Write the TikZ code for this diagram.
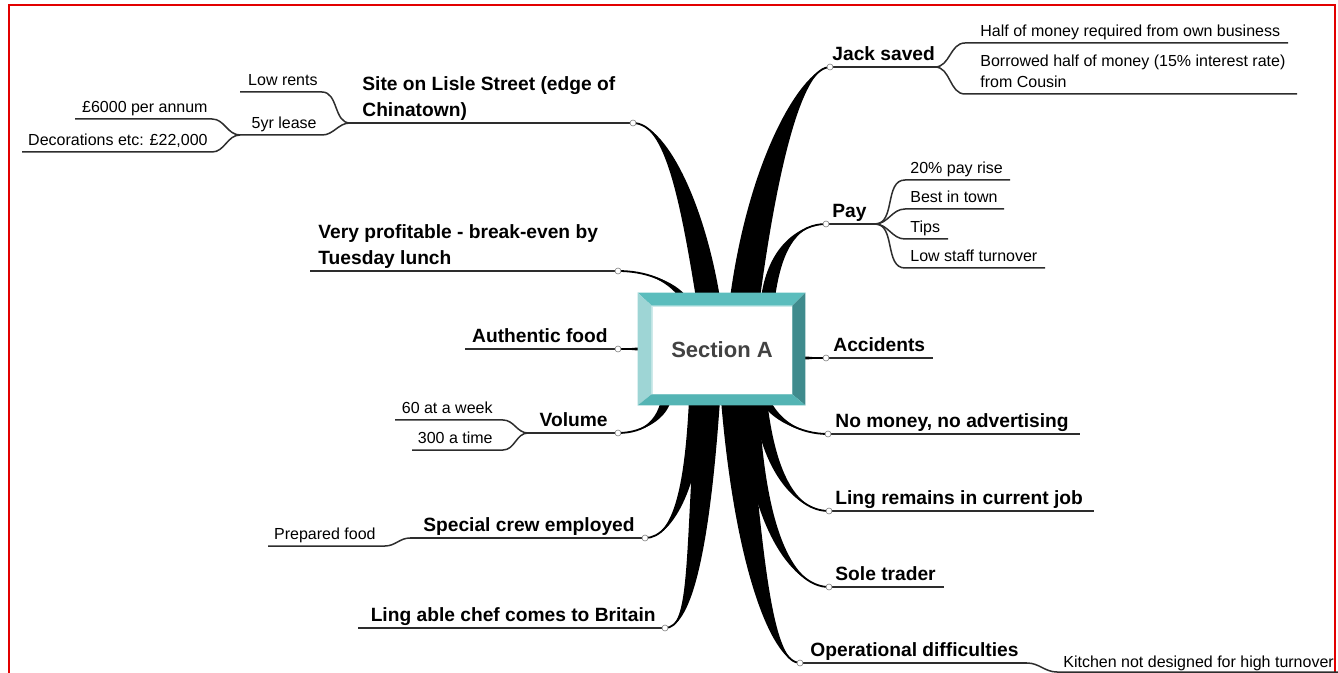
\documentclass[tikz,border=0pt]{standalone}
\usepackage{fontspec}
\setmainfont{Liberation Sans}
\usepackage{color}
\definecolor{myred}{RGB}{226,0,0}
\definecolor{mytealtop}{RGB}{91,189,189}
\definecolor{mytealleft}{RGB}{158,213,213}
\definecolor{mytealright}{RGB}{63,139,141}
\definecolor{mytealbot}{RGB}{84,180,180}
\definecolor{mygrey}{RGB}{66,66,66}
\definecolor{myline}{RGB}{45,45,45}
\usepackage{tikz}
\usetikzlibrary{calc,positioning}
\tikzstyle{dot}=[draw=gray,fill=white,circle,inner sep=0pt,minimum size=3pt,line width=0.3pt]

% tapered limb: base, half width, control at base, control at tip, tip
\newcommand{\limb}[5]{%
  \fill ($(#1)-(#2)$) .. controls ($(#3)-(#2)$) and (#4) .. (#5)
    .. controls (#4) and ($(#3)+(#2)$) .. ($(#1)+(#2)$) -- cycle;
  \draw[line width=0.9pt] (#1) .. controls (#3) and (#4) .. (#5);}

\begin{document}
\begin{tikzpicture}[
  x=0.5pt, y=-0.5pt,
  big/.style={font=\fontsize{9.6}{13}\selectfont\bfseries, inner sep=0pt},
  small/.style={font=\fontsize{8}{10.5}\selectfont, inner sep=0pt},
  rule/.style={line width=1pt, draw=myline},
  twig/.style={line width=0.75pt, draw=myline},
  secbox/.style={
    fill=white,
    draw=mytealleft!50,
    line width=0.3pt,
    minimum width=70pt,
    minimum height=44pt,
    font=\fontsize{11}{13}\selectfont\bfseries,
    text=mygrey
    }
]
\useasboundingbox (0,0) rectangle (1338,673);
\draw[myred, line width=1pt] (9,690) -- (9,5) -- (1335,5) -- (1335,690);

% tips of the limbs
\coordinate (siteT) at (633,123);
\coordinate (profT) at (618,271);
\coordinate (authT) at (618,349);
\coordinate (volT) at (618,433);
\coordinate (crewT) at (645,538);
\coordinate (chefT) at (665,628);
\coordinate (jackT) at (830,67);
\coordinate (payT) at (826,224);
\coordinate (accT) at (826,358);
\coordinate (moneyT) at (828,434);
\coordinate (jobT) at (829,511);
\coordinate (soleT) at (829,587);
\coordinate (operT) at (800,663);

% limbs out of the box
\limb{708,298}{12,0}{692,200}{665,123}{siteT}
\limb{745,298}{15,0}{765,150}{805,67}{jackT}
\limb{768,298}{7,0}{775,245}{800,224}{payT}
\limb{684,298}{4,0}{670,280}{645,271}{profT}
\limb{642,349}{0,1.5}{632,349}{626,349}{authT}
\limb{802,358}{0,1.5}{812,358}{818,358}{accT}
\limb{666,400}{5,0}{662,418}{645,433}{volT}
\limb{765,400}{5,0}{775,420}{800,434}{moneyT}
\limb{697,400}{8,0}{693,480}{675,538}{crewT}
\limb{708,400}{12,0}{697,560}{690,628}{chefT}
\limb{735,400}{14,0}{750,580}{775,663}{operT}
\limb{750,400}{9,0}{755,520}{790,587}{soleT}
\limb{760,400}{7,0}{768,470}{795,511}{jobT}

% the bevelled box
\node[secbox] (sec) at (722,350) {Section A};
\fill[mytealtop] ($(sec.north west)+(-14,-13)$) -- ($(sec.north east)+(13,-13)$) -- (sec.north east) -- (sec.north west) -- cycle;
\fill[mytealleft] ($(sec.north west)+(-14,-13)$) -- (sec.north west) -- (sec.south west) -- ($(sec.south west)+(-14,11)$) -- cycle;
\fill[mytealright] ($(sec.north east)+(13,-13)$) -- ($(sec.south east)+(13,11)$) -- (sec.south east) -- (sec.north east) -- cycle;
\fill[mytealbot] ($(sec.south west)+(-14,11)$) -- ($(sec.south east)+(13,11)$) -- (sec.south east) -- (sec.south west) -- cycle;

% forks and line ends
\coordinate (siteF) at (350,123);
\coordinate (lowR) at (322,92);    \coordinate (lowL) at (240,92);
\coordinate (leaseR) at (322,135); \coordinate (leaseF) at (240,135);
\coordinate (annumR) at (212,119); \coordinate (annumL) at (75,119);
\coordinate (decorR) at (212,152); \coordinate (decorL) at (22,152);
\coordinate (profE) at (310,271);
\coordinate (authE) at (465,349);
\coordinate (volF) at (528,433);
\coordinate (weekR) at (503,420);  \coordinate (weekL) at (395,420);
\coordinate (timeR) at (503,450);  \coordinate (timeL) at (412,450);
\coordinate (crewF) at (410,538);
\coordinate (prepR) at (385,546);  \coordinate (prepL) at (268,546);
\coordinate (chefE) at (358,628);
\coordinate (jackF) at (935,67);
\coordinate (halfL) at (965,43);   \coordinate (halfR) at (1288,43);
\coordinate (borrowL) at (965,94); \coordinate (borrowR) at (1297,94);
\coordinate (payF) at (875,224);
\coordinate (accE) at (933,358);
\coordinate (moneyE) at (1080,434);
\coordinate (jobE) at (1094,511);
\coordinate (soleE) at (944,587);
\coordinate (operF) at (1027,663);
\coordinate (kitchenL) at (1057,672); \coordinate (kitchenR) at (1345,672);

% underlines
\draw[rule] (siteT) -- (siteF);
\draw[rule] (profT) -- (profE);
\draw[rule] (authT) -- (authE);
\draw[rule] (volT) -- (volF);
\draw[rule] (crewT) -- (crewF);
\draw[rule] (chefT) -- (chefE);
\draw[rule] (jackT) -- (jackF);
\draw[rule] (payT) -- (payF);
\draw[rule] (accT) -- (accE);
\draw[rule] (moneyT) -- (moneyE);
\draw[rule] (jobT) -- (jobE);
\draw[rule] (soleT) -- (soleE);
\draw[rule] (operT) -- (operF);

% sub branches
\draw[twig] (siteF) to[out=180,in=0] (lowR) -- (lowL);
\draw[twig] (siteF) to[out=180,in=0] (leaseR) -- (leaseF);
\draw[twig] (leaseF) to[out=180,in=0] (annumR) -- (annumL);
\draw[twig] (leaseF) to[out=180,in=0] (decorR) -- (decorL);
\draw[twig] (volF) to[out=180,in=0] (weekR) -- (weekL);
\draw[twig] (volF) to[out=180,in=0] (timeR) -- (timeL);
\draw[twig] (crewF) to[out=180,in=0] (prepR) -- (prepL);
\draw[twig] (jackF) to[out=0,in=180] (halfL) -- (halfR);
\draw[twig] (jackF) to[out=0,in=180] (borrowL) -- (borrowR);
\draw[twig] (operF) to[out=0,in=180] (kitchenL) -- (kitchenR);
\foreach \txt/\yy/\xe [count=\i] in {20\% pay rise/180/1010, Best in town/209/1004, Tips/239/948, Low staff turnover/268/1045} {
  \coordinate (payS\i) at (905,\yy);
  \coordinate (payE\i) at (\xe,\yy);
  \node[small, anchor=base west] (payL\i) at (910,\yy-6.5) {\txt};
  \draw[twig] (payF) to[out=0,in=180] (payS\i) -- (payE\i);
}

% left labels
\node[big, anchor=base west, align=left] (site) at (362,116.5) {Site on Lisle Street (edge of\\Chinatown)};
\node[small, anchor=base east] (low) at (318,85.5) {Low rents};
\node[small, anchor=base east] (lease) at (317,128.5) {5yr lease};
\node[small, anchor=base east] (annum) at (208,112.5) {£6000 per annum};
\node[small, anchor=base east] (decor) at (208,145.5) {Decorations etc: £22,000};
\node[big, anchor=base west, align=left] (prof) at (318,264.5) {Very profitable - break-even by\\Tuesday lunch};
\node[big, anchor=base east] (auth) at (608,342.5) {Authentic food};
\node[big, anchor=base east] (vol) at (608,426.5) {Volume};
\node[small, anchor=base east] (week) at (493,413.5) {60 at a week};
\node[small, anchor=base east] (time) at (493,443.5) {300 a time};
\node[big, anchor=base east] (crew) at (635,531.5) {Special crew employed};
\node[small, anchor=base east] (prep) at (376,539.5) {Prepared food};
\node[big, anchor=base east] (chef) at (656,621.5) {Ling able chef comes to Britain};

% right labels
\node[big, anchor=base west] (jack) at (832,60.5) {Jack saved};
\node[small, anchor=base west] (half) at (980,36.5) {Half of money required from own business};
\node[small, anchor=base west, align=left] (borrow) at (980,87.5) {Borrowed half of money (15\% interest rate)\\from Cousin};
\node[big, anchor=base west] (pay) at (832,217.5) {Pay};
\node[big, anchor=base west] (acc) at (833,351.5) {Accidents};
\node[big, anchor=base west] (money) at (835,427.5) {No money, no advertising};
\node[big, anchor=base west] (job) at (835,504.5) {Ling remains in current job};
\node[big, anchor=base west] (sole) at (835,580.5) {Sole trader};
\node[big, anchor=base west] (oper) at (810,656.5) {Operational difficulties};
\node[small, anchor=base west] (kitchen) at (1063,667) {Kitchen not designed for high turnover};

% little knots where limbs meet their lines
\foreach \t in {site,prof,auth,vol,crew,chef,jack,pay,acc,money,job,sole,oper}
  \node[dot] (\t-dot) at (\t T) {};

\end{tikzpicture}
\end{document}
